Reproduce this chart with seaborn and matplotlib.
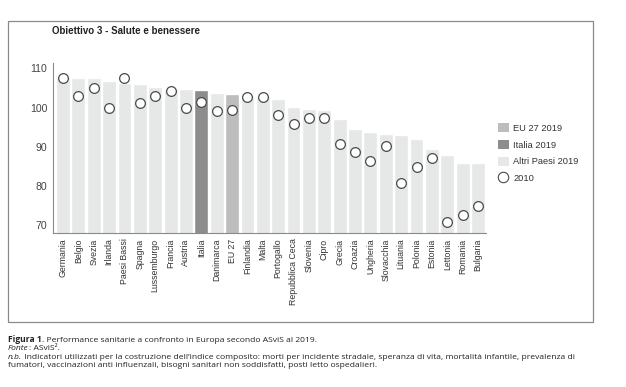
import numpy as np
import pandas as pd
import matplotlib.pyplot as plt
import seaborn as sns
from matplotlib.patches import Patch, Rectangle
from matplotlib.lines import Line2D

# dati (indice composito, Goal 3)
paesi = ["Germania", "Belgio", "Svezia", "Irlanda", "Paesi Bassi", "Spagna",
         "Lussemburgo", "Francia", "Austria", "Italia", "Danimarca", "EU 27",
         "Finlandia", "Malta", "Portogallo", "Repubblica Ceca", "Slovenia", "Cipro",
         "Grecia", "Croazia", "Ungheria", "Slovacchia", "Lituania", "Polonia",
         "Estonia", "Lettonia", "Romania", "Bulgaria"]
valori_2019 = [107.9, 107.6, 107.5, 106.7, 106.3, 105.9, 105.3, 104.8, 104.7, 104.5,
               103.8, 103.5, 103.3, 102.9, 102.3, 100.2, 99.6, 99.4, 97.0, 94.6,
               93.7, 93.2, 93.1, 91.9, 89.5, 87.8, 85.8, 85.8]
valori_2010 = [107.5, 102.9, 104.9, 99.8, 107.6, 101.2, 103.0, 104.2, 99.8, 101.4,
               99.2, 99.5, 102.8, 102.6, 98.1, 95.9, 97.3, 97.3, 90.6, 88.5,
               86.3, 90.2, 80.6, 84.9, 87.2, 70.6, 72.6, 74.7]
yticks = [70, 80, 90, 100, 110]

COL_EU = "#bdbdbd"
COL_IT = "#8d8d8d"
COL_ALTRI = "#e6e7e7"

sns.set_style("white")
plt.rcParams["font.family"] = ["Liberation Sans", "DejaVu Sans"]

df = pd.DataFrame({"paese": paesi, "v2019": valori_2019, "v2010": valori_2010})
df["gruppo"] = np.where(df["paese"] == "Italia", "Italia",
                        np.where(df["paese"] == "EU 27", "EU", "Altri"))

W, H = 626, 387
fig = plt.figure(figsize=(W / 100, H / 100), dpi=100)
ax = fig.add_axes([53 / W, 1 - 233 / H, (486 - 53) / W, (233 - 63) / H])

sns.barplot(data=df, x="paese", y="v2019", hue="gruppo", order=paesi,
            palette={"Italia": COL_IT, "EU": COL_EU, "Altri": COL_ALTRI},
            dodge=False, width=0.9, saturation=1, legend=False, ax=ax)
sns.stripplot(data=df, x="paese", y="v2010", order=paesi, jitter=False,
              color="white", edgecolor="#4a4a4a", linewidth=0.9, size=7.0,
              ax=ax, zorder=5)

ax.set_ylim(67.9, 111.4)
ax.set_xlim(-0.65, 27.52)
ax.set_yticks(yticks)
ax.set_xlabel("")
ax.set_ylabel("")
ax.tick_params(axis="x", rotation=90, labelsize=6.3, length=0, pad=4, colors="#333333")
ax.tick_params(axis="y", labelsize=7.6, length=0, pad=4, colors="#444444")
for s in ["top", "right"]:
    ax.spines[s].set_visible(False)
for s in ["left", "bottom"]:
    ax.spines[s].set_color("#8a8a8a")
    ax.spines[s].set_linewidth(0.8)

# legenda
handles = [Patch(facecolor=COL_EU, edgecolor="none", label="EU 27 2019"),
           Patch(facecolor=COL_IT, edgecolor="none", label="Italia 2019"),
           Patch(facecolor=COL_ALTRI, edgecolor="none", label="Altri Paesi 2019"),
           Line2D([], [], marker="o", linestyle="none", markerfacecolor="white",
                  markeredgecolor="#4a4a4a", markeredgewidth=0.8, markersize=7.5, label="2010")]
fig.legend(handles=handles, loc="upper left", bbox_to_anchor=(490 / W, 1 - 115 / H),
           frameon=False, fontsize=6.7, handlelength=1.1, handleheight=1.1,
           handletextpad=0.5, labelspacing=0.75, labelcolor="#333333")

# cornice e titolo
fig.patches.append(Rectangle((8 / W, 1 - 322 / H), (593 - 8) / W, (322 - 21) / H,
                             transform=fig.transFigure, fill=False,
                             edgecolor="#8a8a8a", linewidth=0.9))
fig.text(52 / W, 1 - 31 / H, "Obiettivo 3 - Salute e benessere", fontsize=7,
         fontweight="bold", color="#222222", va="center", ha="left")

# didascalia: pezzi con stili diversi sulla stessa riga
cap = dict(fontsize=6.1, color="#222222", va="baseline", family=["Open Sans", "DejaVu Sans"])
renderer = fig.canvas.get_renderer()


def riga(y_px, pezzi):
    x = 8 / W
    for testo, stile in pezzi:
        t = fig.text(x, 1 - y_px / H, testo, **stile, **cap)
        bb = t.get_window_extent(renderer=renderer)
        x = bb.x1 / fig.bbox.width


riga(342.5, [("Figura 1", {"fontweight": "bold"}),
             (". Performance sanitarie a confronto in Europa secondo ASviS al 2019.", {})])
riga(350.5, [("Fonte", {"fontstyle": "italic"}), (": ASviS\u00b2.", {})])
riga(358.7, [("n.b.", {"fontstyle": "italic"}),
             (" Indicatori utilizzati per la costruzione dell\u2019indice composito: morti per incidente stradale, "
              "speranza di vita, mortalità infantile, prevalenza di", {})])
riga(367, [("fumatori, vaccinazioni anti influenzali, bisogni sanitari non soddisfatti, "
            "posti letto ospedalieri.", {})])

fig.savefig("out.png", dpi=100)
